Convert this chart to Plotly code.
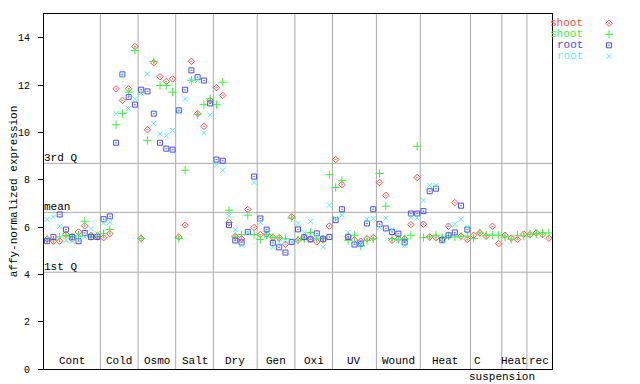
import numpy as np
import plotly.graph_objects as go

# ---------------- data ----------------
group_names = ["Cont", "Cold", "Osmo", "Salt", "Dry", "Gen", "Oxi", "UV",
               "Wound", "Heat", "C", "Heat", "rec"]
group_sizes = [9, 6, 6, 6, 7, 6, 6, 7, 7, 8, 5, 4, 4]

shoot_a = [  # red diamonds
    5.49, 5.40, 5.40, 5.69, 5.50, 5.79, 6.05, 5.65, 5.62,
    5.55, 5.72, 11.84, 11.35, 11.84, 13.63,
    5.52, 10.11, 12.94, 12.35, 12.15, 12.26,
    5.58, 6.08, 13.00, 10.79, 10.25, 11.35,
    11.89, 11.56, 6.19, 5.60, 5.50, 6.74, 5.98,
    5.68, 5.70, 5.56, 5.55, 5.27, 6.43,
    5.44, 5.55, 5.48, 5.37, 5.45, 6.04,
    8.85, 7.79, 5.60, 5.45, 5.40, 5.50, 5.55,
    7.88, 7.34, 5.44, 5.50, 5.50, 6.10, 8.09,
    6.12, 5.58, 5.55, 5.50, 6.03, 7.03, 5.61, 5.47,
    5.65, 5.75, 5.61, 6.03, 5.30,
    5.65, 5.53, 5.47, 5.70,
    5.68, 5.75, 5.68, 5.53,
]
shoot_b = [  # green plus
    5.50, 5.45, 5.58, 5.65, 5.58, 5.61, 6.24, 5.60, 5.60,
    5.72, 5.89, 10.32, 10.79, 11.70, 13.46,
    5.52, 9.66, 13.00, 11.98, 11.98, 11.70,
    5.52, 8.40, 12.20, 10.75, 11.17, 11.42,
    11.17, 12.12, 6.71, 5.61, 5.68, 6.50, 5.68,
    5.47, 5.68, 5.56, 5.54, 5.50, 6.38,
    5.45, 5.50, 5.77, 5.50, 5.50, 8.21,
    7.67, 7.97, 5.44, 5.65, 5.20, 5.44, 5.50,
    8.26, 6.88, 5.51, 5.48, 5.50, 5.65, 9.41,
    5.55, 5.58, 5.65, 5.55, 5.62, 5.58, 5.61, 5.61,
    5.51, 5.75, 5.65, 5.65, 5.65,
    5.58, 5.48, 5.65, 5.62,
    5.70, 5.72, 5.75, 5.75,
]
root_a = [  # blue squares
    5.40, 5.58, 6.53, 5.89, 5.58, 5.40, 5.75, 5.58, 5.58,
    6.33, 6.45, 9.56, 12.45, 11.50, 11.17,
    11.80, 11.73, 10.79, 9.56, 9.31, 9.27,
    10.93, 11.80, 12.62, 12.33, 12.19, 11.22,
    8.85, 8.80, 6.08, 5.43, 5.35, 5.79, 8.13,
    6.36, 5.89, 5.33, 5.14, 4.92, 5.37,
    5.90, 5.58, 5.48, 5.73, 5.50, 5.58,
    6.29, 6.75, 5.58, 5.26, 5.30, 6.15, 6.75,
    6.12, 5.94, 5.79, 5.72, 5.35, 6.57, 6.57,
    6.67, 7.51, 7.62, 5.44, 5.65, 5.77, 6.90, 5.89,
    None, None, None, None, None,
    None, None, None, None,
    None, None, None, None,
]
root_b = [  # cyan crosses
    6.32, 6.42, 6.03, 5.43, 5.40, 5.55, 5.58, 5.93, 5.72,
    6.17, 6.20, 10.79, 12.42, 11.00, 11.42,
    11.65, 12.47, 10.37, 9.94, 9.86, 10.08,
    10.86, 11.42, 12.19, 12.20, 9.98, 10.74,
    8.61, 8.40, 6.46, 5.89, 5.23, 5.75, 7.88,
    6.20, 5.68, 5.14, 5.35, 5.43, 5.37,
    6.15, 5.77, 6.24, 5.60, 5.16, 6.92,
    6.36, 6.50, 5.77, 5.30, 5.30, 6.33, 6.36,
    5.98, 6.38, 5.90, 5.41, 5.23, 6.40, 6.38,
    7.13, 7.76, 7.76, 5.44, 6.08, 6.12, 6.33, 6.00,
    None, None, None, None, None,
    None, None, None, None,
    None, None, None, None,
]

q1_value = 4.09
mean_value = 6.62
q3_value = 8.69
y_ticks = [0, 2, 4, 6, 8, 10, 12, 14]

series_names = ["shoot", "shoot", "root", "root"]
series_colors = ["#ff4a4a", "#3ef03e", "#4a4aff", "#55eeee"]
series_symbols = ["diamond-open-dot", "cross-thin-open", "square-open-dot", "x-thin-open"]
series_sizes = [5, 6, 5, 5]
series_values = [shoot_a, shoot_b, root_a, root_b]

# ---------------- figure ----------------
# page body has an 8px default margin; figure is sized to fit the window
FONT = "Liberation Mono, DejaVu Sans Mono, monospace"
FIG_W, FIG_H = 632, 376
ML, MR, MT, MB = 36, 10, 6, 15
PW = FIG_W - ML - MR          # 586
PH = FIG_H - MT - MB          # 355
MAIN_W = 508                  # pixel width of the main plotting box

n = sum(group_sizes)
xs = np.arange(n) + 0.5
bounds = np.cumsum(group_sizes)
starts = np.concatenate([[0], bounds[:-1]])

fig = go.Figure()

for vals, col, sym, sz in zip(series_values, series_colors, series_symbols, series_sizes):
    fig.add_trace(go.Scatter(
        x=xs, y=vals, mode="markers", showlegend=False,
        marker=dict(symbol=sym, color=col, size=sz,
                    line=dict(color=col, width=1)),
        hoverinfo="skip"))

# legend markers on a small side axis
for i, (col, sym, sz) in enumerate(zip(series_colors, series_symbols, series_sizes)):
    fig.add_trace(go.Scatter(
        x=[0.5], y=[i], mode="markers", showlegend=False,
        xaxis="x2", yaxis="y2",
        marker=dict(symbol=sym, color=col, size=sz,
                    line=dict(color=col, width=1)),
        hoverinfo="skip"))

shapes = []
for b in bounds[:-1]:
    shapes.append(dict(type="line", xref="x", yref="paper", x0=b, x1=b,
                       y0=0, y1=1, line=dict(color="#aaaaaa", width=1),
                       layer="below"))
for q in [q1_value, mean_value, q3_value]:
    shapes.append(dict(type="line", xref="paper", yref="y", x0=0, x1=MAIN_W / PW,
                       y0=q, y1=q, line=dict(color="#aaaaaa", width=1),
                       layer="below"))

annotations = []
for name, s, b in zip(group_names, starts, bounds):
    cx = (s + b) / 2
    if name == "C":
        cx = s + 1.1
    annotations.append(dict(x=cx, y=0, xref="x", yref="paper", text=name,
                            showarrow=False, yanchor="bottom", xanchor="center",
                            font=dict(family=FONT, size=11, color="black")))
# second line of "C suspension"
c_idx = group_names.index("C")
annotations.append(dict(x=bounds[c_idx], y=0, xref="x", yref="paper",
                        text="suspension", showarrow=False, yanchor="top",
                        xanchor="center", yshift=0,
                        font=dict(family=FONT, size=11, color="black")))
for label, q in [("3rd Q", q3_value), ("mean", mean_value), ("1st Q", q1_value)]:
    annotations.append(dict(x=0, y=q, xref="paper", yref="y", text=label,
                            showarrow=False, xanchor="left", yanchor="bottom",
                            xshift=-2, yshift=-3,
                            font=dict(family=FONT, size=11, color="black")))
# legend texts (pixel rows inside the plotting area, from its top)
legend_rows = [9.3, 20.3, 31.3, 42.3]
for name, col, py in zip(series_names, series_colors, legend_rows):
    annotations.append(dict(x=541 / PW, y=(PH - py) / PH,
                            xref="paper", yref="paper", text=name,
                            showarrow=False, xanchor="right", yanchor="middle",
                            font=dict(family=FONT, size=11, color=col)))

fig.update_layout(
    width=FIG_W, height=FIG_H,
    margin=dict(l=ML, r=MR, t=MT, b=MB, autoexpand=False),
    paper_bgcolor="white", plot_bgcolor="white",
    font=dict(family=FONT, size=10, color="black"),
    xaxis=dict(domain=[0, MAIN_W / PW], range=[0, n], showgrid=False,
               zeroline=False, showticklabels=False, ticks="",
               automargin=False,
               showline=True, linecolor="black", linewidth=1, mirror=True),
    yaxis=dict(range=[0, 15], tickvals=y_ticks, showgrid=False, zeroline=False,
               ticks="outside", ticklen=5, tickcolor="black",
               ticklabelstandoff=6, automargin=False,
               showline=True, linecolor="black", linewidth=1, mirror=True,
               tickfont=dict(family=FONT, size=10),
               title=dict(text="affy-normalized expression", standoff=4,
                          font=dict(family=FONT, size=11))),
    xaxis2=dict(domain=[560 / PW, 570 / PW], range=[0, 1],
                visible=False, anchor="y2"),
    yaxis2=dict(domain=[(PH - 47.8) / PH, (PH - 3.8) / PH],
                range=[3.5, -0.5], visible=False, anchor="x2"),
    shapes=shapes,
    annotations=annotations,
)

fig.write_html("out.html")
